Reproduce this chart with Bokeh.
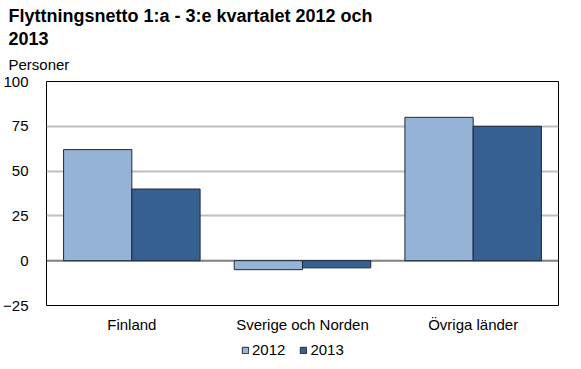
from bokeh.plotting import figure
from bokeh.models import (FactorRange, ColumnDataSource, FixedTicker, Span, Legend, LegendItem,
                          Title, Range1d)
from bokeh.layouts import column
from bokeh.transform import dodge
from bokeh.embed import file_html
from bokeh.resources import INLINE

categories = ["Finland", "Sverige och Norden", "Övriga länder"]
values_2012 = [62, -5, 80]
values_2013 = [40, -4, 75]
y_ticks = [-25, 0, 25, 50, 75, 100]
series_names = ["2012", "2013"]
colors = ["#95B3D7", "#376092"]

FONT = "Liberation Sans"
EDGE = "#1f2a38"

src = ColumnDataSource(dict(cat=categories, v2012=values_2012, v2013=values_2013))

p = figure(x_range=FactorRange(*categories, range_padding=0), y_range=(-25, 100),
           frame_width=512, frame_height=224,
           output_backend="svg", toolbar_location=None, title=None,
           min_border_left=42, min_border_right=10, min_border_top=0, min_border_bottom=30)
p.background_fill_color = "white"
p.border_fill_color = "white"
p.outline_line_color = "black"
p.outline_line_width = 1

r1 = p.vbar(x=dodge("cat", -0.2, range=p.x_range), top="v2012", bottom=0, width=0.4, source=src,
            fill_color=colors[0], line_color=EDGE, line_width=1)
r2 = p.vbar(x=dodge("cat", 0.2, range=p.x_range), top="v2013", bottom=0, width=0.4, source=src,
            fill_color=colors[1], line_color=EDGE, line_width=1)

p.xgrid.grid_line_color = None
p.ygrid.grid_line_color = "#BEBEBE"
p.ygrid.grid_line_width = 2
p.ygrid.ticker = FixedTicker(ticks=[25, 50, 75])
p.ygrid.level = "underlay"

zero = Span(location=0, dimension="width", line_color="#7F7F7F", line_width=2, level="underlay")
p.add_layout(zero)

p.yaxis.ticker = FixedTicker(ticks=y_ticks)
p.yaxis.axis_line_color = None
p.yaxis.major_tick_line_color = None
p.yaxis.minor_tick_line_color = None
p.yaxis.major_label_text_font = FONT
p.yaxis.major_label_text_font_size = "15px"
p.yaxis.major_label_text_color = "black"
p.yaxis.major_label_standoff = 12

p.xaxis.axis_line_color = None
p.xaxis.major_tick_line_color = None
p.xaxis.minor_tick_line_color = None
p.xaxis.major_label_text_font = FONT
p.xaxis.major_label_text_font_size = "15px"
p.xaxis.major_label_text_color = "black"
p.xaxis.major_label_standoff = 4

t3 = Title(text="Personer", text_font=FONT, text_font_size="15px", text_font_style="normal",
           text_color="black", offset=-38, standoff=17)
p.add_layout(t3, "above")
t2 = Title(text="2013", text_font=FONT, text_font_size="18px", text_font_style="bold",
           text_color="black", offset=-38, standoff=1)
p.add_layout(t2, "above")
t1 = Title(text="Flyttningsnetto 1:a - 3:e kvartalet 2012 och", text_font=FONT,
           text_font_size="18px", text_font_style="bold", text_color="black", offset=-38, standoff=7)
p.add_layout(t1, "above")

# legend strip below the chart (swatch glyphs sit outside its visible range)
lf = figure(width=564, height=26, x_range=Range1d(0, 1), y_range=Range1d(0, 1),
            output_backend="svg", toolbar_location=None, title=None,
            x_axis_type=None, y_axis_type=None,
            min_border_left=0, min_border_right=0, min_border_top=0, min_border_bottom=0)
lf.outline_line_color = None
lf.xgrid.grid_line_color = None
lf.ygrid.grid_line_color = None
swatch = ColumnDataSource(dict(x=[-10], y=[-10]))
l1 = lf.rect(x="x", y="y", width=0.1, height=0.1, source=swatch, fill_color=colors[0], line_color=EDGE)
l2 = lf.rect(x="x", y="y", width=0.1, height=0.1, source=swatch, fill_color=colors[1], line_color=EDGE)
legend = Legend(items=[LegendItem(label=series_names[0], renderers=[l1]),
                       LegendItem(label=series_names[1], renderers=[l2])],
                orientation="horizontal", location=(195, 3),
                label_text_font=FONT, label_text_font_size="15px", label_text_color="black",
                glyph_width=8, glyph_height=8, label_standoff=3, spacing=14,
                label_height=15, padding=0, margin=0, border_line_color=None, background_fill_alpha=0)
lf.add_layout(legend, "center")

layout = column(p, lf, spacing=0)
open("out.html", "w").write(file_html(layout, INLINE))
